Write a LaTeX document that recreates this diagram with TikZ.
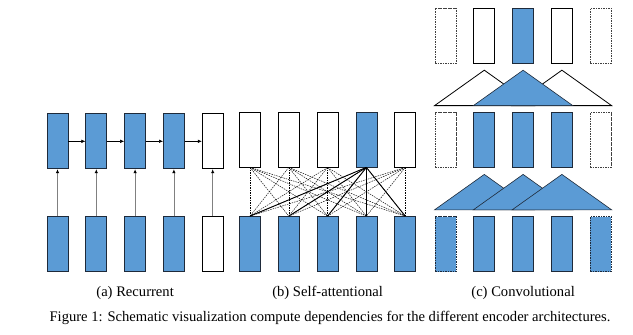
\documentclass[tikz,border=0pt]{standalone}
\usepackage{fontspec}
\setmainfont{Liberation Serif}
\usetikzlibrary{positioning, arrows.meta}
\definecolor{cellBlue}{HTML}{5B9BD5}
\definecolor{cellEdge}{HTML}{1E2A3A}
\definecolor{linkGrey}{HTML}{808080}

\begin{document}
\begin{tikzpicture}[x=1pt, y=-1pt, font=\fontsize{14.6}{17}\selectfont,
    node distance=17pt,
    cell/.style={draw=black, line width=0.8pt, fill=white,
                 minimum width=21pt, minimum height=55pt, inner sep=0pt},
    full/.style={cell, fill=cellBlue, draw=cellEdge},
    padcell/.style={cell, draw=black!75, dash pattern=on 1.6pt off 0.9pt},
    fullpad/.style={full, dash pattern=on 1.6pt off 0.9pt},
    rnn/.style={black, line width=0.5pt, -{Latex[length=4pt, width=3.5pt]}},
    feed/.style={linkGrey, line width=0.7pt, -{Latex[length=4pt, width=3.5pt, black]}},
    attn/.style={black, line width=0.45pt, dash pattern=on 1.5pt off 1pt},
    attnon/.style={black, line width=0.9pt},
    hood/.style={fill=white, draw=black, line width=0.8pt},
    fullhood/.style={fill=cellBlue, draw=cellEdge, line width=0.6pt}]
  \useasboundingbox (0,0) rectangle (633,335);

  % (a) recurrent
  \node[full] (at1) at (57.5,141.3) {};
  \node[full, right=of at1] (at2) {};
  \node[full, right=of at2] (at3) {};
  \node[full, right=of at3] (at4) {};
  \node[cell, right=of at4] (at5) {};
  \node[full] (ab1) at (57.5,244.2) {};
  \node[full, right=of ab1] (ab2) {};
  \node[full, right=of ab2] (ab3) {};
  \node[full, right=of ab3] (ab4) {};
  \node[cell, right=of ab4] (ab5) {};
  \foreach \i in {1,...,5} {\draw[feed] (ab\i.north) -- (at\i.south);}
  \draw[rnn] (at1) -- (at2);
  \draw[rnn] (at2) -- (at3);
  \draw[rnn] (at3) -- (at4);
  \draw[rnn] (at4) -- (at5);
  \node[below=11pt of ab3] (acap) {(a) Recurrent};

  % (b) self-attentional
  \node[cell] (bt1) at (250,139.5) {};
  \node[cell, right=of bt1] (bt2) {};
  \node[cell, right=of bt2] (bt3) {};
  \node[full, right=of bt3] (bt4) {};
  \node[cell, right=of bt4] (bt5) {};
  \node[full] (bb1) at (250,244) {};
  \node[full, right=of bb1] (bb2) {};
  \node[full, right=of bb2] (bb3) {};
  \node[full, right=of bb3] (bb4) {};
  \node[full, right=of bb4] (bb5) {};
  \foreach \i in {1,...,5} {
    \foreach \j in {1,...,5} {\draw[attn] (bt\i.south) -- (bb\j.north);}
  }
  \foreach \j in {1,...,5} {\draw[attnon] (bt4.south) -- (bb\j.north);}
  \node[below=11pt of bb3] (bcap) {(b) Self-attentional};

  % (c) convolutional
  \node[padcell] (ct1) at (445.5,35.8) {};
  \node[cell, right=of ct1] (ct2) {};
  \node[full, right=of ct2] (ct3) {};
  \node[cell, right=of ct3] (ct4) {};
  \node[padcell, right=of ct4] (ct5) {};
  \node[padcell] (cm1) at (445.5,140) {};
  \node[full, right=of cm1] (cm2) {};
  \node[full, right=of cm2] (cm3) {};
  \node[full, right=of cm3] (cm4) {};
  \node[padcell, right=of cm4] (cm5) {};
  \node[fullpad] (cb1) at (445.5,244.2) {};
  \node[full, right=of cb1] (cb2) {};
  \node[full, right=of cb2] (cb3) {};
  \node[full, right=of cb3] (cb4) {};
  \node[fullpad, right=of cb4] (cb5) {};

  \draw[hood] ([yshift=6.5pt]cm1.north west) -- ([yshift=-6.5pt]ct2.south)
    -- ([yshift=6.5pt]cm3.north east) -- cycle;
  \draw[hood] ([yshift=6.5pt]cm3.north west) -- ([yshift=-6.5pt]ct4.south)
    -- ([yshift=6.5pt]cm5.north east) -- cycle;
  \draw[fullhood] ([yshift=6.5pt]cm2.north west) -- ([yshift=-6.5pt]ct3.south)
    -- ([yshift=6.5pt]cm4.north east) -- cycle;
  \draw[fullhood] ([yshift=6.5pt]cb1.north west) -- ([yshift=-6.5pt]cm2.south)
    -- ([yshift=6.5pt]cb3.north east) -- cycle;
  \draw[fullhood] ([yshift=6.5pt]cb2.north west) -- ([yshift=-6.5pt]cm3.south)
    -- ([yshift=6.5pt]cb4.north east) -- cycle;
  \draw[fullhood] ([yshift=6.5pt]cb3.north west) -- ([yshift=-6.5pt]cm4.south)
    -- ([yshift=6.5pt]cb5.north east) -- cycle;
  \node[below=11pt of cb3] (ccap) {(c) Convolutional};

  \node (figcap) at (330,318) {Figure 1: Schematic visualization compute dependencies for the different encoder architectures.};
\end{tikzpicture}
\end{document}
